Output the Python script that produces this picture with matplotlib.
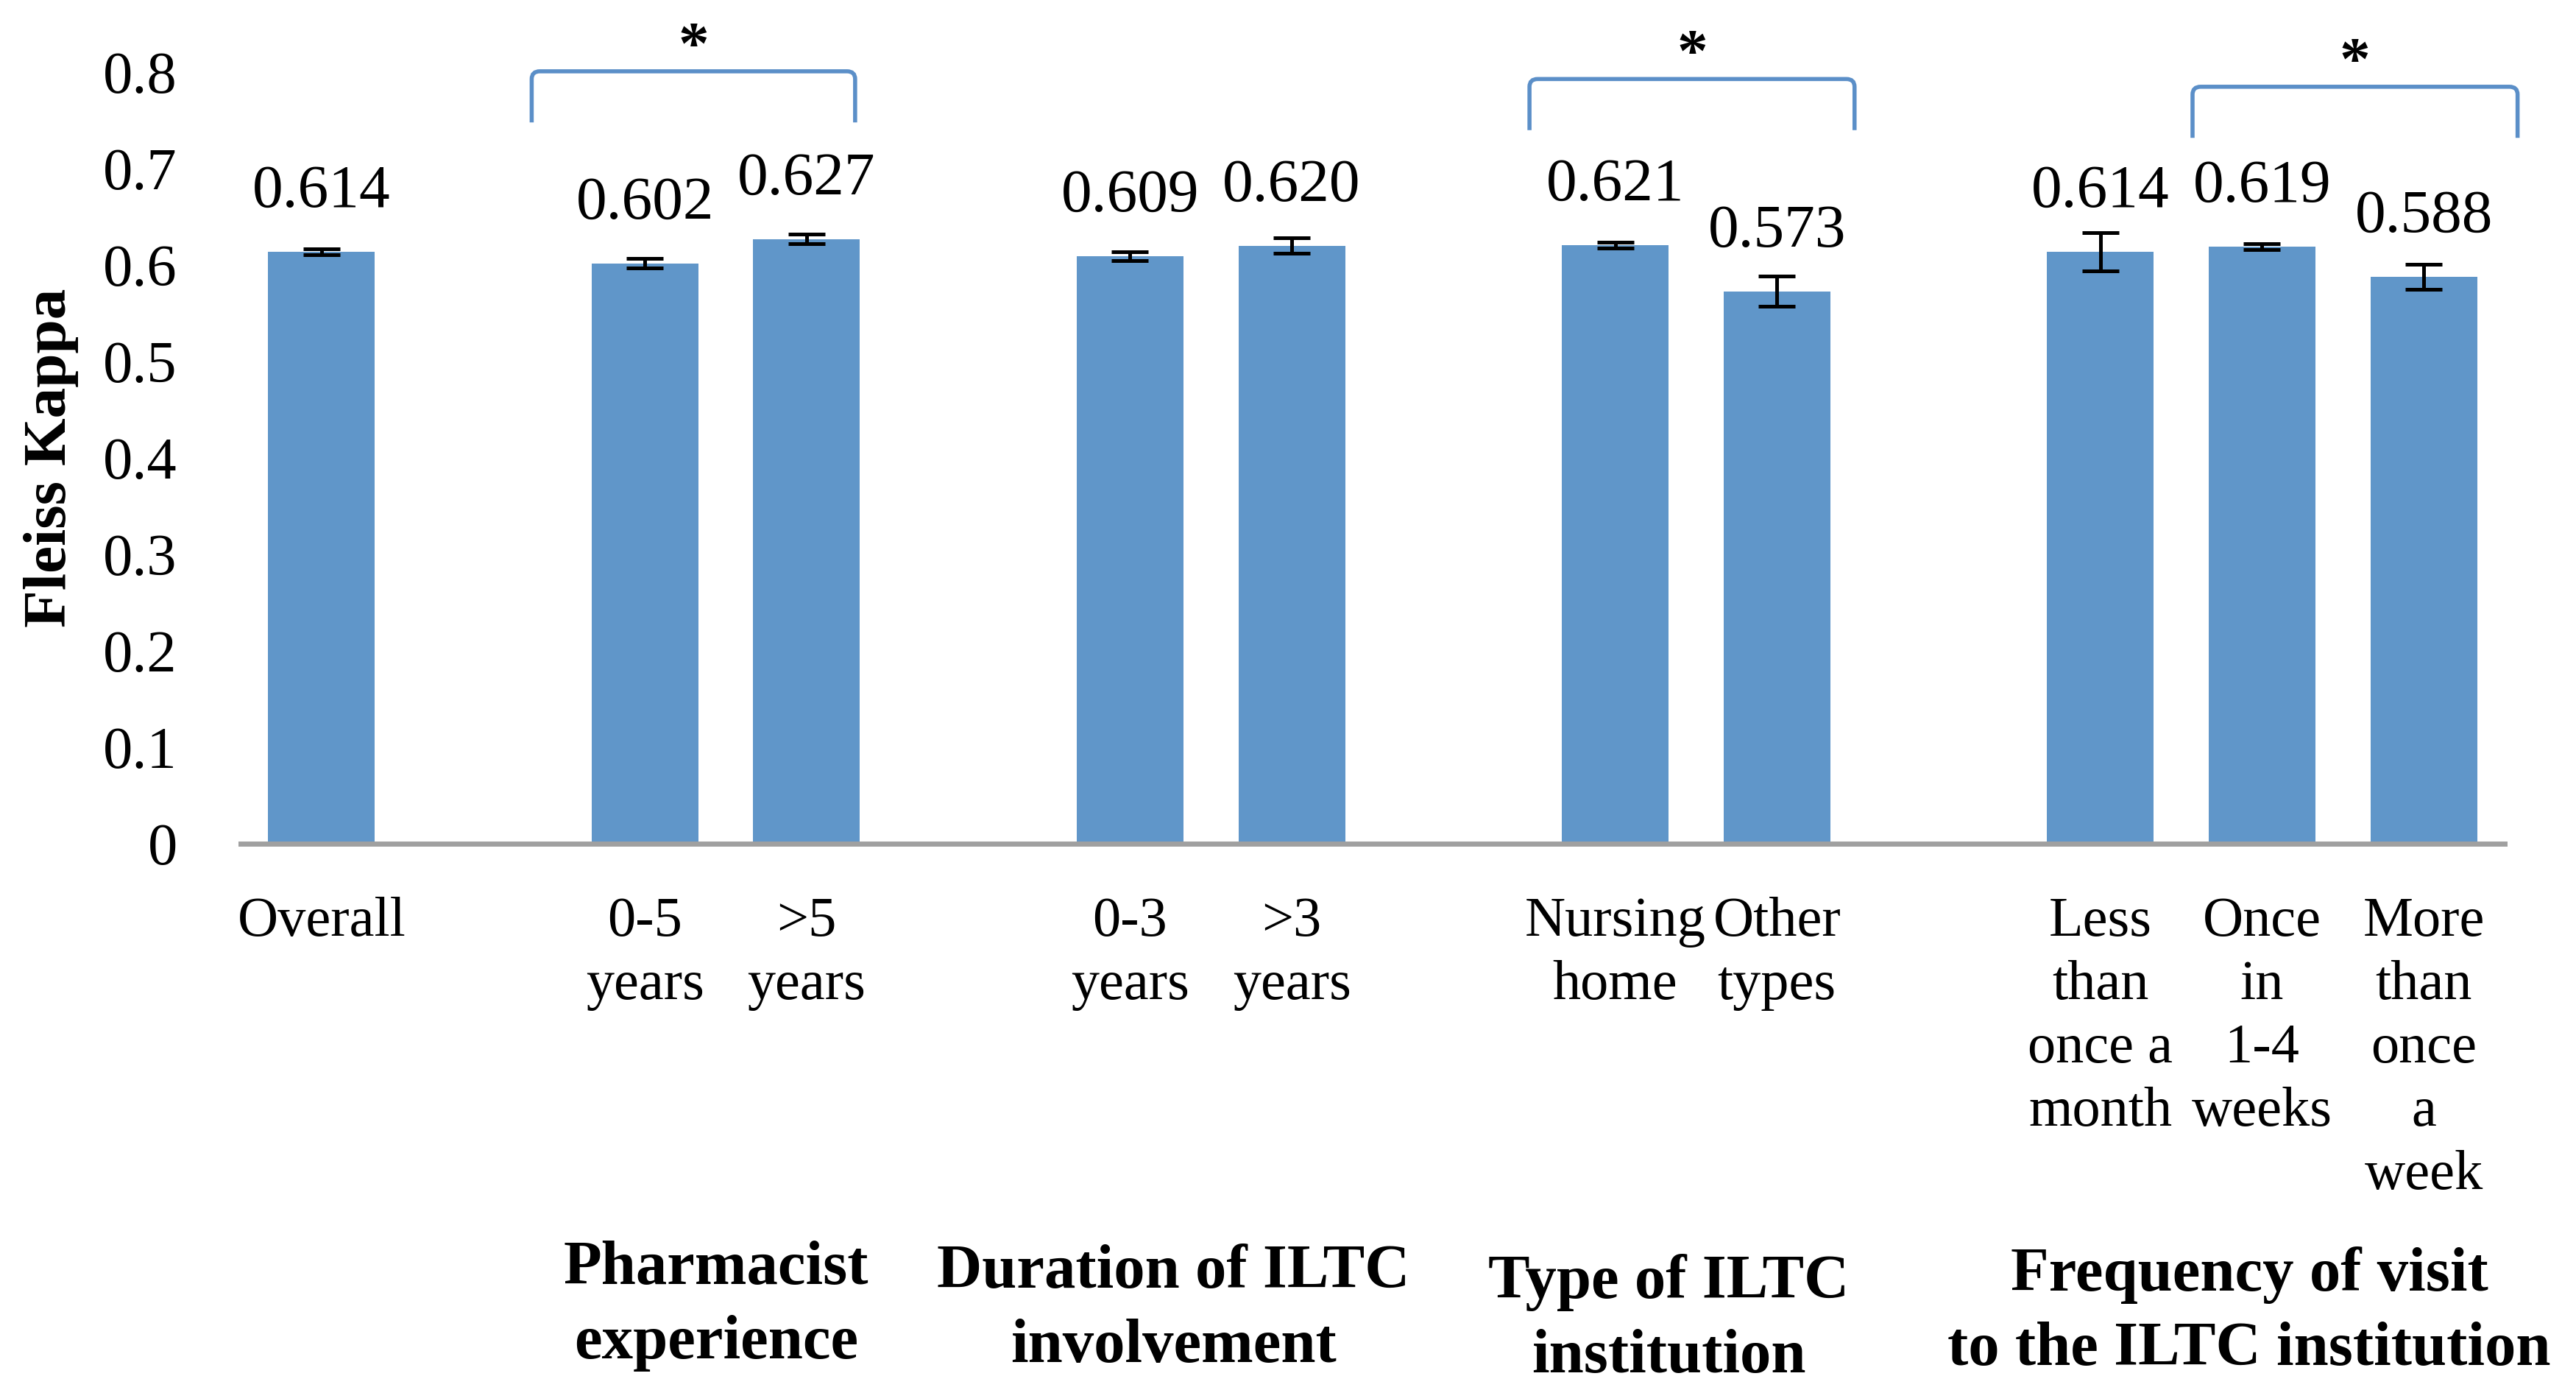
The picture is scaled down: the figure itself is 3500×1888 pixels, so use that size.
import matplotlib
matplotlib.use("Agg")
import matplotlib.pyplot as plt
from matplotlib.path import Path
from matplotlib.patches import PathPatch
from matplotlib.transforms import blended_transform_factory
import numpy as np

plt.rcParams['font.family'] = ['Liberation Serif', 'DejaVu Serif']

# Data
labels = ["Overall", "0-5\nyears", ">5\nyears", "0-3\nyears", ">3\nyears",
          "Nursing\nhome", "Other\ntypes", "Less\nthan\nonce a\nmonth",
          "Once\nin\n1-4\nweeks", "More\nthan\nonce\na\nweek"]
kappa = [0.614, 0.602, 0.627, 0.609, 0.620, 0.621, 0.573, 0.614, 0.619, 0.588]
kappa_err = [0.003, 0.005, 0.005, 0.0045, 0.008, 0.003, 0.016, 0.020, 0.003, 0.013]
group_of = [0, 1, 1, 2, 2, 3, 3, 4, 4, 4]
group_names = ["", "Pharmacist\nexperience", "Duration of ILTC\ninvolvement",
               "Type of ILTC\ninstitution", "Frequency of visit\nto the ILTC institution"]
sig_pairs = [(1, 2), (5, 6), (8, 9)]

bar_color = "#6096C9"
bracket_color = "#5B8FC8"

# one empty slot between groups
x = np.arange(len(labels)) + np.array(group_of)

fig = plt.figure(figsize=(17.5, 9.44), dpi=200)
ax = fig.add_axes([0.0934, 0.393, 0.8789, 0.555])

ax.bar(x, kappa, width=0.66, color=bar_color, zorder=2)
ax.errorbar(x, kappa, yerr=kappa_err, fmt="none", ecolor="black",
            elinewidth=1.8, capsize=9, capthick=1.8, zorder=3)

for xi, v in zip(x, kappa):
    ax.annotate(f"{v:.3f}", xy=(xi, v), xytext=(0, 22), textcoords="offset points",
                ha="center", va="baseline", fontsize=30)

ax.set_xlim(-0.5, x[-1] + 0.5)
ax.set_ylim(0, 0.8)
yt = np.round(np.arange(0, 0.81, 0.1), 1)
ax.set_yticks(yt)
ax.set_yticklabels(["0"] + [f"{v:.1f}" for v in yt[1:]], fontsize=29)
ax.set_xticks(x)
ax.set_xticklabels(labels, fontsize=27.5)
for t in ax.get_xticklabels():
    t.set_linespacing(1.32)
ax.tick_params(axis="y", length=0, pad=31)
ax.tick_params(axis="x", length=0, pad=26)

for s in ["top", "right", "left"]:
    ax.spines[s].set_visible(False)
ax.spines["bottom"].set_color("#A0A0A0")
ax.spines["bottom"].set_linewidth(2.5)
ax.spines["bottom"].set_zorder(4)

fig.text(0.02, 0.393 + 0.555 / 2, "Fleiss Kappa", rotation=90, ha="center",
         va="center", fontsize=30, fontweight="bold")

# group labels below the categories
trans = blended_transform_factory(ax.transData, fig.transFigure)
group_dx = [0, -0.06, -0.23, -0.17, -0.08]
group_top_px = [0, 1685, 1690, 1703, 1693]
for g, name in enumerate(group_names):
    if not name:
        continue
    gx = x[np.array(group_of) == g].mean() + group_dx[g]
    ax.text(gx, 1 - group_top_px[g] / 1888, name, transform=trans, ha="center",
            va="top", fontsize=30.5, fontweight="bold", linespacing=1.4,
            multialignment="center")

# significance brackets
bracket_shift = [(-0.7, 0.3, 0.801), (-0.53, 0.48, 0.793), (-0.43, 0.58, 0.785)]
for (a, b), (dl, dr, top) in zip(sig_pairs, bracket_shift):
    x0, x1 = x[a] + dl, x[b] + dr
    yb = top - 0.053
    rx, ry = 0.05, 0.008
    verts = [(x0, yb), (x0, top - ry), (x0, top), (x0 + rx, top),
             (x1 - rx, top), (x1, top), (x1, top - ry), (x1, yb)]
    codes = [Path.MOVETO, Path.LINETO, Path.CURVE3, Path.CURVE3,
             Path.LINETO, Path.CURVE3, Path.CURVE3, Path.LINETO]
    ax.add_patch(PathPatch(Path(verts, codes), fill=False, edgecolor=bracket_color,
                           linewidth=2.0, clip_on=False))
    ax.annotate("*", xy=((x0 + x1) / 2, top), xytext=(0, 4), textcoords="offset points",
                ha="center", va="baseline", fontsize=30, fontweight="bold",
                annotation_clip=False)

fig.savefig("out.png", dpi=200)
